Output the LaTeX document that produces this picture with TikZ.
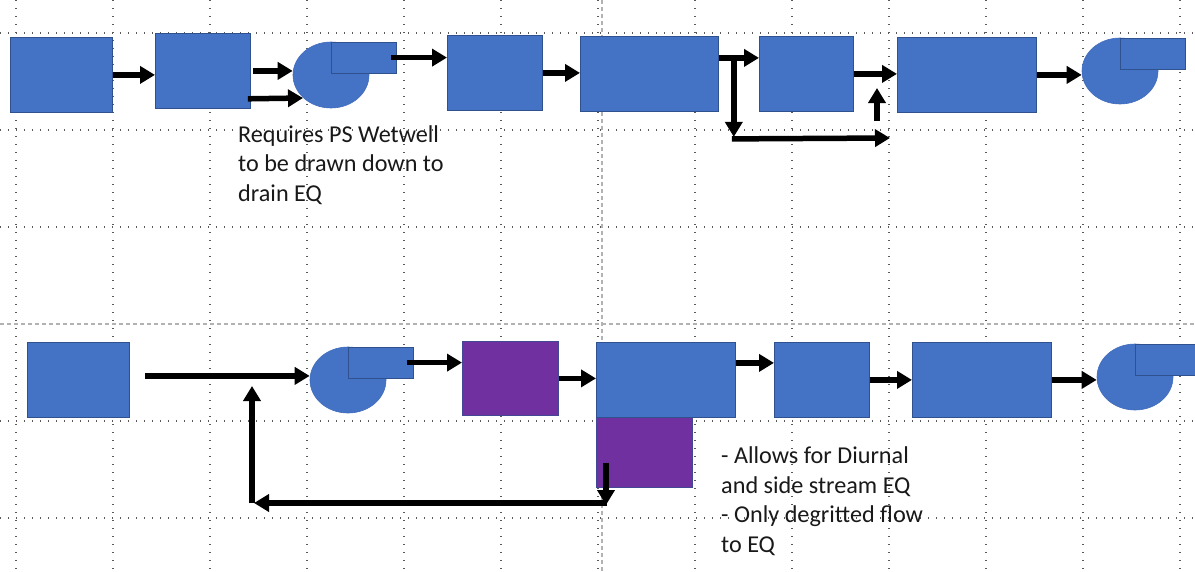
\documentclass[tikz,border=0pt]{standalone}
\usepackage{fontspec}
\setmainfont{Carlito}
\usetikzlibrary{shapes.geometric,arrows.meta,positioning,calc}

\definecolor{unitblue}{HTML}{4472C4}
\definecolor{unitedge}{HTML}{2F528F}
\definecolor{eqpurple}{HTML}{7030A0}

\tikzset{
  unit/.style={draw=unitedge, fill=unitblue, line width=0.8pt, inner sep=0pt, anchor=north west},
  eqbox/.style={unit, fill=eqpurple, draw=unitedge!70!eqpurple},
  pumpbody/.style={ellipse, draw=unitblue!85!unitedge, fill=unitblue, line width=0.6pt,
    inner sep=0pt, minimum width=76pt, minimum height=66pt},
  pumpout/.style={unit, minimum width=65pt, minimum height=31pt},
  flow/.style={line width=5.5pt, -{Triangle[length=15pt,width=17pt]}},
  guide/.style={black!65, line width=1.4pt, dash pattern=on 1.4pt off 6.6pt},
  pageline/.style={black!30, line width=1.2pt, dash pattern=on 4pt off 3pt},
  note/.style={align=left, inner sep=0pt, anchor=base west, text=black!90,
    font=\fontsize{24.2}{29.5}\selectfont}
}

\newcommand{\pump}[2]{%
  \node[pumpbody] (#1) at (#2) {};
  \node[pumpout] (#1o) at (#1.north) {};}

\begin{document}
\begin{tikzpicture}[x=1pt, y=-1pt]
  \useasboundingbox (0,0) rectangle (1195,571);
  \clip (0,0) rectangle (1195,571);
  \fill[white] (0,0) rectangle (1195,571);

  % slide guides
  \foreach \gx in {0,...,12}
    \draw[guide] (16+97*\gx,0) -- (16+97*\gx,571);
  \foreach \gy in {0,1,2,4,5}
    \draw[guide] (0,33+97*\gy) -- (1195,33+97*\gy);
  \draw[pageline] (0,324) -- (1195,324);
  \draw[pageline] (602,0) -- (602,571);

  % upper train
  \node[unit, minimum width=102pt, minimum height=75pt] (b1) at (10,37) {};
  \node[unit, minimum width=95pt, minimum height=75pt] (b2) at (155,33) {};
  \pump{pA}{331,75}
  \node[unit, minimum width=95pt, minimum height=75pt] (b3) at (447,35) {};
  \node[unit, minimum width=138pt, minimum height=75pt] (b4) at (580,36) {};
  \node[unit, minimum width=94pt, minimum height=75pt] (b5) at (759,36) {};
  \node[unit, minimum width=139pt, minimum height=75pt] (b6) at (897,37) {};
  \pump{pB}{1120,71}

  \draw[flow] (b1.east) -- (b1.east -| b2.west);
  \draw[flow] ([xshift=2pt]b2.east) -- (b2.east -| pA.west);
  \coordinate (wetwell) at ([xshift=-3pt,yshift=10pt]b2.south east);
  \draw[flow] (wetwell) -- ($(pA.center)+(-28,23)$);
  \draw[flow] ([xshift=-6pt]pAo.east) -- (pAo.east -| b3.west);
  \draw[flow] (b3.east) -- (b3.east -| b4.west);
  \coordinate (tap) at ([yshift=16pt]b4.east);
  \draw[flow] (tap) -- (tap -| b5.west);
  \coordinate (tee) at ($(tap)+(15,0)$);
  \draw[flow] (tee) -- ++(0,79);
  \coordinate (bystart) at ($(tee)+(-2,81)$);
  \coordinate (byend) at (890,138);
  \draw[flow] (bystart) -- (byend);
  \coordinate (upfoot) at (877,121);
  \draw[flow] (upfoot) -- ++(0,-33);
  \draw[flow] (b5.east) -- (b5.east -| b6.west);
  \draw[flow] (b6.east) -- (b6.east -| pB.west);

  \node[note] (note1) at (238,201) {Requires PS Wetwell\\to be drawn down to\\drain EQ};

  % lower train
  \node[unit, minimum width=102pt, minimum height=75pt] (c1) at (27,342) {};
  \pump{pC}{348,380}
  \node[eqbox, minimum width=96pt, minimum height=74pt] (p1) at (462,341) {};
  \node[eqbox, minimum width=96pt, minimum height=70pt] (p2) at (596,417) {};
  \node[unit, minimum width=139pt, minimum height=75pt] (c3) at (596,342) {};
  \node[unit, minimum width=95pt, minimum height=75pt] (c4) at (774,342) {};
  \node[unit, minimum width=139pt, minimum height=75pt] (c5) at (912,342) {};
  \pump{pD}{1135,377}

  \coordinate (feed) at ([xshift=15pt,yshift=4pt]c1.east);
  \draw[flow] (feed) -- (feed -| pC.west);
  \draw[flow] ([xshift=-7pt]pCo.east) -- (pCo.east -| p1.west);
  \draw[flow] (p1.east) -- (p1.east -| c3.west);
  \coordinate (c3out) at ([yshift=17pt]c3.east);
  \draw[flow] (c3out) -- (c3out -| c4.west);
  \draw[flow] (c4.east) -- (c4.east -| c5.west);
  \draw[flow] (c5.east) -- (c5.east -| pD.west);

  \coordinate (drain) at ([xshift=10pt,yshift=25pt]p2.south west);
  \coordinate (drainlow) at (606,505);
  \coordinate (retcorner) at (254,503);
  \coordinate (retfoot) at (252,503);
  \draw[flow] (drain) -- (drainlow);
  \draw[flow] (607,503) -- (retcorner);
  \draw[flow] (retfoot) -- (retfoot |- 0,386);

  \node[note] (note2) at (721,552) {- Allows for Diurnal\\and side stream EQ\\- Only degritted flow\\to EQ};
\end{tikzpicture}
\end{document}
